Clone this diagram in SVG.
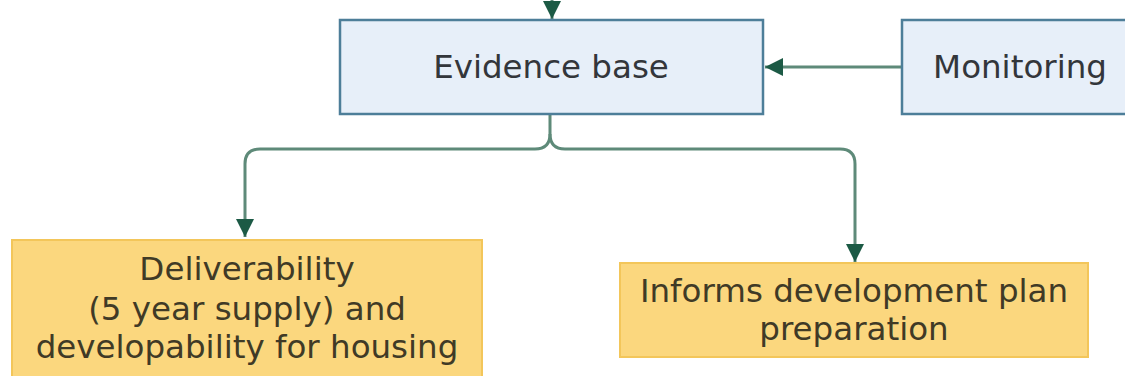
<svg xmlns="http://www.w3.org/2000/svg" width="1125" height="376" viewBox="0 0 1125 376">
<style>
.blue{fill:#e7eff9;stroke:#4d7e99;stroke-width:2.5}
.yellow{fill:#fbd77e;stroke:#f3c65a;stroke-width:2}
.t{font-family:"DejaVu Sans",Verdana,sans-serif;font-size:32.5px;text-anchor:middle}
.tb{fill:#33363b}
.ty{fill:#403a26}
.c{fill:none;stroke:#5e8a79;stroke-width:3}
</style>
<defs>
<marker id="ah" viewBox="0 0 10 10" refX="10" refY="5" markerWidth="18" markerHeight="18" markerUnits="userSpaceOnUse" orient="auto">
<path d="M0,0 L10,5 L0,10 z" fill="#1c5a45"/>
</marker>
</defs>
<g id="connectors">
<path class="c" d="M552,0 L552,19" marker-end="url(#ah)"/>
<path class="c" d="M902,67 L765,67" marker-end="url(#ah)"/>
<path class="c" d="M550,114 L550,134 Q550,149 535,149 L260,149 Q245,149 245,164 L245,237" marker-end="url(#ah)"/>
<path class="c" d="M550,134 Q550,149 565,149 L840,149 Q855,149 855,164 L855,262" marker-end="url(#ah)"/>
</g>
<g id="evidence">
<rect class="blue" x="340" y="20" width="423" height="94"/>
<text class="t tb" x="551" y="78">Evidence base</text>
</g>
<g id="monitoring">
<rect class="blue" x="902" y="20" width="240" height="94"/>
<text class="t tb" x="1020" y="78">Monitoring</text>
</g>
<g id="deliverability">
<rect class="yellow" x="12" y="240" width="470" height="145"/>
<text class="t ty" x="247" y="280">Deliverability</text>
<text class="t ty" x="247" y="320">(5 year supply) and</text>
<text class="t ty" x="247" y="358">developability for housing</text>
</g>
<g id="informs">
<rect class="yellow" x="620" y="263" width="468" height="94"/>
<text class="t ty" x="854" y="302">Informs development plan</text>
<text class="t ty" x="854" y="340">preparation</text>
</g>
</svg>
